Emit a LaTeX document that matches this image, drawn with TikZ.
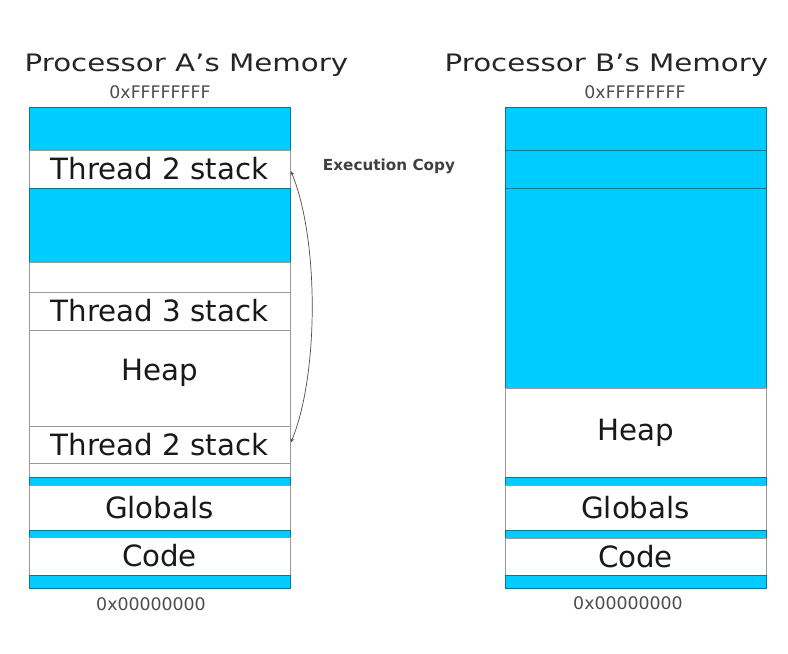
\documentclass[tikz,border=0pt]{standalone}
\usepackage{fontspec}
\setmainfont{DejaVu Sans}
\usepackage{graphicx}
\definecolor{segblue}{RGB}{0,204,255}
\begin{document}
\begin{tikzpicture}[x=0.03cm,y=-0.03cm]
\tikzstyle{segment}=[rectangle,line width=0.8pt,minimum width=7.83cm,inner sep=0pt,outer sep=0pt,text=black!90,font=\fontsize{25pt}{28pt}\selectfont]
\tikzstyle{title}=[anchor=base,text=black!85,inner sep=0pt]
\tikzstyle{addr}=[text=black!70,inner sep=0pt,font=\fontsize{14.8pt}{17pt}\selectfont]
\tikzstyle{annot}=[text=black!75,inner sep=0pt,font=\fontsize{13pt}{15pt}\selectfont\bfseries]

\useasboundingbox (0,0) rectangle (788,654);

% Define column centres
\def\colA{159.5}
\def\colB{635.5}

% Processor A's memory, top to bottom
\foreach \name/\ya/\yb/\kind/\txt in {1/107/150/segblue/{},2/150/188/white/Thread 2 stack,3/188/262/segblue/{},4/262/292/white/{},5/292/330/white/Thread 3 stack,6/330/426/white/{\raisebox{14pt}{Heap}},7/426/463/white/Thread 2 stack,8/463/477/white/{},9/477/485/segblue/{},10/485/530/white/Globals,11/530/537/segblue/{},12/537/575/white/Code,13/575/588/segblue/{}}
  \node[segment,fill=\kind,draw=\kind!60!black,minimum height={(\yb-\ya)*0.03cm}] (A-\name) at (\colA,{(\ya+\yb)/2}) {\txt};

% Processor B's memory, top to bottom
\foreach \name/\ya/\yb/\kind/\txt in {1/107/150/segblue/{},2/150/188/segblue/{},3/188/388/segblue/{},4/388/477/white/Heap,5/477/485/segblue/{},6/485/530/white/Globals,7/530/538/segblue/{},8/538/575/white/Code,9/575/588/segblue/{}}
  \node[segment,fill=\kind,draw=\kind!60!black,minimum height={(\yb-\ya)*0.03cm}] (B-\name) at (\colB,{(\ya+\yb)/2}) {\txt};

% Titles and addresses
\node[title] (titleA) at (186.5,71.7) {\scalebox{1.22}[1]{\fontsize{20.5pt}{24pt}\selectfont Processor A’s Memory}};
\node[title] (titleB) at (606.5,71.7) {\scalebox{1.22}[1]{\fontsize{20.5pt}{24pt}\selectfont Processor B’s Memory}};
\node[addr] (topA) at (160,92) {0xFFFFFFFF};
\node[addr] (topB) at (635,92) {0xFFFFFFFF};
\node[addr] (botA) at (151,604) {0x00000000};
\node[addr] (botB) at (628,603) {0x00000000};

% The copied stack
\node[annot] (copy) at (389,166) {Execution Copy};
\draw[stealth-stealth,black!70,line width=0.6pt,shorten <=2pt,shorten >=2pt] (A-2.east) .. controls +(29,70) and +(29,-70) .. (A-7.east);

\end{tikzpicture}
\end{document}
